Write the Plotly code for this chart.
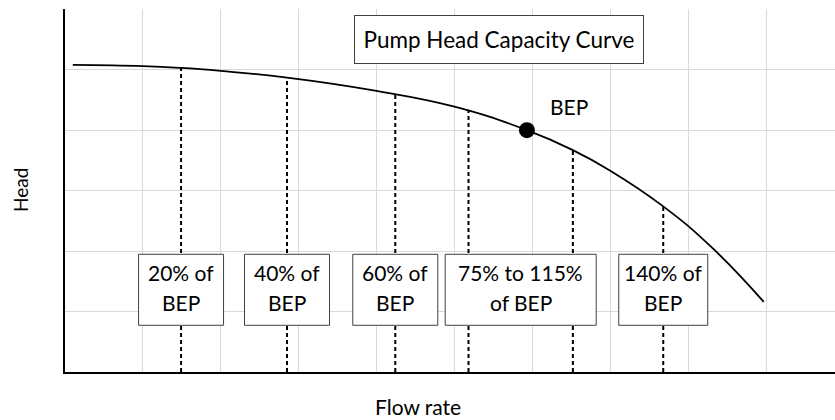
import plotly.graph_objects as go

# Head-capacity curve read along the flow axis (grid units)
flow = [0.10, 1.00, 1.49, 2.00, 2.85, 4.00, 5.00, 5.93, 6.52, 7.00, 7.68, 8.32, 8.97]
head = [5.08, 5.06, 5.03, 4.98, 4.87, 4.65, 4.39, 4.00, 3.67, 3.33, 2.74, 2.04, 1.16]

# Best efficiency point
bep_flow = 5.93
bep_head = 4.00

# Operating-range guide lines (20%, 40%, 60%, 75%, 115%, 140% of BEP)
guide_flow = [1.49, 2.85, 4.24, 5.18, 6.52, 7.68]
guide_head = [5.03, 4.87, 4.59, 4.32, 3.67, 2.74]

# Box labels, two lines each
label_top = ["20% of", "40% of", "60% of", "75% to 115%", "140% of"]
label_bottom = ["BEP", "BEP", "BEP", "of BEP", "BEP"]

title_text = "Pump Head Capacity Curve"
x_title = "Flow rate"
y_title = "Head"

FONT = dict(family="Lato", size=21, color="black")
BOX_EDGE = "#404040"

# Plot area in pixels (used to place the axis titles outside it)
PLOT_L, PLOT_R, PLOT_T, PLOT_B = 65, 835, 9, 372

# Label centres: on each guide line, the 75-115% box spans two guides
label_x = [guide_flow[0], guide_flow[1], guide_flow[2],
           (guide_flow[3] + guide_flow[4]) / 2, guide_flow[5]]
label_w = [85, 85, 85, 151, 89]
label_y = 1.36

fig = go.Figure()

# Dashed verticals from the axis up to the curve
gx, gy = [], []
for fx, hy in zip(guide_flow, guide_head):
    gx += [fx, fx, None]
    gy += [0, hy, None]
fig.add_trace(go.Scatter(x=gx, y=gy, mode="lines",
                         line=dict(color="black", width=2, dash="4px,3px"),
                         hoverinfo="skip", showlegend=False))

# Pump curve
fig.add_trace(go.Scatter(x=flow, y=head, mode="lines",
                         line=dict(color="black", width=1.8, shape="spline", smoothing=1.3),
                         showlegend=False))

# BEP marker
fig.add_trace(go.Scatter(x=[bep_flow], y=[bep_head], mode="markers",
                         marker=dict(color="black", size=16), showlegend=False))

shapes = []
annotations = []
for cx, w, t1, t2 in zip(label_x, label_w, label_top, label_bottom):
    shapes.append(dict(type="rect", xref="x", yref="y",
                       xsizemode="pixel", ysizemode="pixel",
                       xanchor=cx, yanchor=label_y,
                       x0=-w / 2, x1=w / 2, y0=-35.5, y1=35.5,
                       fillcolor="white", line=dict(color=BOX_EDGE, width=1),
                       layer="above"))
    annotations.append(dict(x=cx, y=label_y, xref="x", yref="y", text=t1,
                            showarrow=False, font=FONT, yshift=17))
    annotations.append(dict(x=cx, y=label_y, xref="x", yref="y", text=t2,
                            showarrow=False, font=FONT, yshift=-13))

# Title box
annotations.append(dict(x=5.573, y=5.497, xref="x", yref="y", text=title_text,
                        showarrow=False, font=dict(FONT, size=22.5), width=288, height=47,
                        bgcolor="white", bordercolor=BOX_EDGE, borderwidth=1,
                        borderpad=0))

# BEP label
annotations.append(dict(x=bep_flow, y=bep_head, xref="x", yref="y", text="BEP",
                        showarrow=False, font=FONT, xshift=42, yshift=24))


def to_paper(px, py):
    return ((px - PLOT_L) / (PLOT_R - PLOT_L), (PLOT_B - py) / (PLOT_B - PLOT_T))


# Axis titles
fx, fy = to_paper(418, 406)
annotations.append(dict(x=fx, y=fy, xref="paper", yref="paper",
                        xanchor="center", yanchor="middle",
                        text=x_title, showarrow=False, font=FONT))
hx, hy = to_paper(20, 190)
annotations.append(dict(x=hx, y=hy, xref="paper", yref="paper",
                        xanchor="center", yanchor="middle",
                        text=y_title, showarrow=False, font=dict(FONT, size=19),
                        textangle=-90))

fig.update_layout(
    width=835, height=420,
    margin=dict(l=PLOT_L, r=835 - PLOT_R, t=PLOT_T, b=420 - PLOT_B),
    plot_bgcolor="white", paper_bgcolor="white",
    shapes=shapes, annotations=annotations,
    showlegend=False,
)
fig.update_xaxes(range=[0, 9.885], dtick=1, showticklabels=False, ticks="",
                 showgrid=True, gridcolor="#d9d9d9", gridwidth=1.2,
                 zeroline=False, showline=True, linecolor="black", linewidth=2)
fig.update_yaxes(range=[0, 6.005], dtick=1, showticklabels=False, ticks="",
                 showgrid=True, gridcolor="#d9d9d9", gridwidth=1.2,
                 zeroline=False, showline=True, linecolor="black", linewidth=2)

fig.write_html("out.html")
